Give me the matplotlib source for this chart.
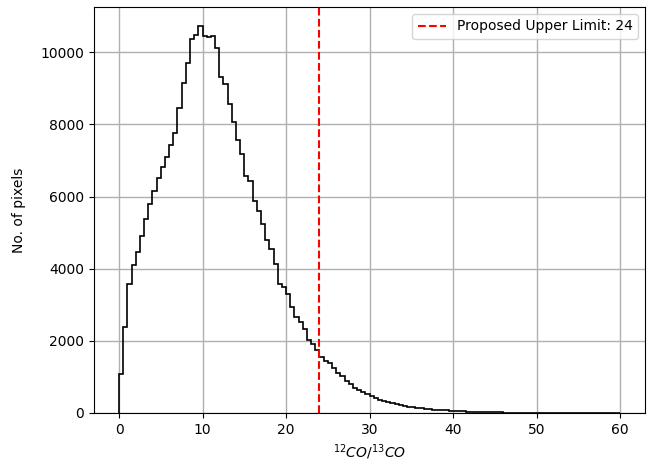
import numpy as np
import matplotlib
matplotlib.use("Agg")
from matplotlib import pyplot as plt

# ratio histogram, 0.5 wide bins from 0 to 60
bin_edges = np.arange(0, 60.5, 0.5)
pixel_counts = [
    1080, 2390, 3580, 4090, 4460, 4920, 5380, 5790, 6160, 6510,
    6830, 7100, 7430, 7770, 8450, 9140, 9700, 10380, 10470, 10720,
    10440, 10410, 10440, 10120, 9310, 9120, 8560, 8075, 7560, 7190,
    6575, 6440, 5880, 5610, 5240, 4800, 4550, 4135, 3580, 3490,
    3300, 2940, 2660, 2520, 2340, 2020, 1925, 1740, 1560, 1450,
    1380, 1250, 1120, 1020, 900, 800, 700, 640, 580, 520,
    470, 420, 370, 330, 295, 265, 240, 215, 195, 175,
    158, 143, 128, 115, 104, 95, 88, 92, 75, 66,
    58, 51, 45, 40, 35, 31, 28, 25, 22, 19,
    17, 15, 13, 12, 10, 9, 8, 7, 7, 6,
    6, 5, 5, 4, 4, 4, 3, 3, 3, 3,
    2, 2, 2, 2, 2, 1, 1, 1, 1, 1,
]
upper_limit = 24

fig, ax = plt.subplots(figsize=(6.57, 4.63), dpi=100)
fig.subplots_adjust(left=0.143, right=0.982, top=0.985, bottom=0.108)

ax.stairs(pixel_counts, bin_edges, color="black", linewidth=1.2, baseline=0)
ax.axvline(upper_limit, color="red", linestyle="--", linewidth=1.5,
           label=f"Proposed Upper Limit: {upper_limit}")

ax.set_xlim(-3, 63)
ax.set_ylim(0, max(pixel_counts) * 1.05)
ax.set_xlabel(r"$^{12}CO/^{13}CO$")
ax.set_ylabel("No. of pixels", labelpad=10)
ax.grid(True, color="#b0b0b0", linewidth=1)
ax.set_axisbelow(True)
ax.legend(loc="upper right")

plt.savefig("out.png", dpi=100)
